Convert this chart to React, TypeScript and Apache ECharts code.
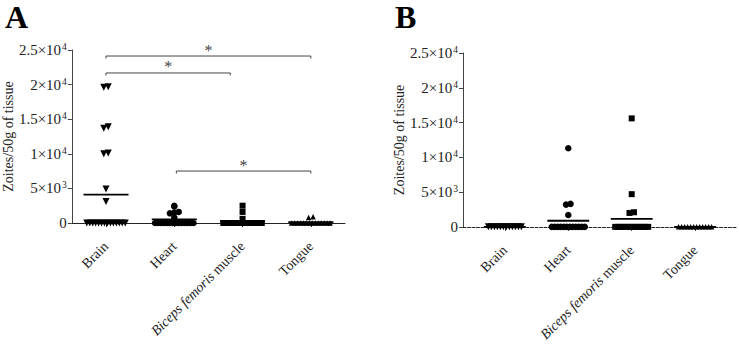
import React, { useEffect, useRef } from "react";
import * as echarts from "echarts";

// Tissue categories shared by both panels
const categories = ["Brain", "Heart", "Biceps femoris muscle", "Tongue"];

// Y-axis tick labels as [mantissa part, exponent] (0 … 2.5×10⁴ in steps of 5000)
const yTickBase = ["0", "5×10", "1×10", "1.5×10", "2×10", "2.5×10"];
const yTickExp = ["", "3", "4", "4", "4", "4"];

// Panel A – zoites per 50 g of tissue, one value per animal
const brainA = [0, 0, 0, 0, 0, 0, 0, 0, 0, 0, 0, 0, 0, 0, 3100, 4900, 10000, 10100, 13700, 13900, 19600, 19700];
const heartA = [0, 0, 0, 0, 0, 0, 0, 0, 0, 0, 0, 0, 0, 0, 800, 1400, 1500, 1600, 2400, 2500];
const bicepsA = [0, 0, 0, 0, 0, 0, 0, 0, 0, 0, 0, 0, 0, 0, 600, 1600, 2500];
const tongueA = [0, 0, 0, 0, 0, 0, 0, 0, 0, 0, 0, 0, 0, 0, 800, 900];
const meansA = [4100, 530, 250, 120];

// Panel B
const brainB = [0, 0, 0, 0, 0, 0, 0, 0, 0, 0, 0, 0];
const heartB = [0, 0, 0, 0, 0, 0, 0, 0, 0, 0, 0, 0, 1700, 3200, 3300, 11300];
const bicepsB = [0, 0, 0, 0, 0, 0, 0, 0, 0, 0, 0, 0, 2000, 2100, 4700, 15600];
const tongueB = [0, 0, 0, 0, 0, 0, 0, 0, 0, 0, 0, 0];
const meansB = [0, 880, 1150, 0];

// Significance brackets of panel A: [from category, to category, height]
const bracketFrom = [0, 0, 1.03];
const bracketTo = [3, 1.82, 3];
const bracketHeight = [24130, 21680, 7510];
const bracketText = ["*", "*", "*"];

const FONT = "'Liberation Serif', 'Times New Roman', serif";
const TEXT = "#222";

// Spread points sharing (nearly) the same value sideways around the category centre
function swarm(values: number[], cat: number, pxPerUnit: number): number[][] {
  const groups = new Map<string, number[]>();
  values.forEach((v) => {
    const key = v === 0 ? "z" : String(Math.round(v / 700));
    if (!groups.has(key)) groups.set(key, []);
    groups.get(key)!.push(v);
  });
  const out: number[][] = [];
  groups.forEach((vals, key) => {
    const step = (key === "z" ? 3 : 4.5) / pxPerUnit;
    const n = vals.length;
    vals.forEach((v, i) => out.push([cat + (i - (n - 1) / 2) * step, v]));
  });
  return out;
}

const symbols = [
  { symbol: "triangle", rotate: 180, size: 7 },
  { symbol: "circle", rotate: 0, size: 6.5 },
  { symbol: "rect", rotate: 0, size: 6 },
  { symbol: "triangle", rotate: 0, size: 5.5 },
];

function xAxisFor(gridIndex: number, min: number, max: number, dashed: boolean) {
  return {
    gridIndex,
    type: "value",
    min,
    max,
    splitLine: { show: false },
    axisLine: {
      onZero: false,
      lineStyle: { color: "#222", width: 1, type: dashed ? [3, 1.5] : "solid" },
    },
    axisTick: {
      show: true,
      customValues: [0, 1, 2, 3],
      length: 4,
      lineStyle: { color: "#222" },
    },
    axisLabel: {
      customValues: [0, 1, 2, 3],
      rotate: 45,
      margin: 21,
      fontSize: 14,
      fontFamily: FONT,
      color: TEXT,
      formatter: (v: number) => {
        const name = categories[Math.round(v)] ?? "";
        return name.startsWith("Biceps femoris") ? "{i|Biceps femoris}" + name.slice(14) : name;
      },
      rich: { i: { fontStyle: "italic", fontSize: 14, fontFamily: FONT, color: TEXT } },
    },
  };
}

function yAxisFor(gridIndex: number) {
  return {
    gridIndex,
    type: "value",
    min: 0,
    max: 25000,
    interval: 5000,
    name: "Zoites/50g of tissue",
    nameLocation: "middle",
    nameGap: 52,
    nameTextStyle: { fontSize: 14, fontFamily: FONT, color: TEXT },
    splitLine: { show: false },
    axisLine: { show: true, onZero: false, lineStyle: { color: "#444" } },
    axisTick: { show: true, length: 4, lineStyle: { color: "#444" } },
    axisLabel: {
      fontSize: 15,
      fontFamily: FONT,
      color: TEXT,
      margin: 5,
      formatter: (v: number) => {
        const k = Math.round(v / 5000);
        const e = yTickExp[k];
        return e ? `{b|${yTickBase[k]}}{s|${e}}` : `{b|${yTickBase[k]}}`;
      },
      rich: {
        b: { fontSize: 15, fontFamily: FONT, color: TEXT, lineHeight: 16 },
        s: { fontSize: 9.5, fontFamily: FONT, color: TEXT, verticalAlign: "top", lineHeight: 10, padding: [0, 0, 0, 1] },
      },
    },
  };
}

function scatterSeries(sets: number[][], axis: number, pxPerUnit: number) {
  return sets.map((vals, cat) => ({
    type: "scatter",
    xAxisIndex: axis,
    yAxisIndex: axis,
    silent: true,
    symbol: symbols[cat].symbol,
    symbolRotate: symbols[cat].rotate,
    symbolSize: symbols[cat].size,
    itemStyle: { color: "#000", opacity: 1 },
    data: swarm(vals, cat, pxPerUnit),
    z: 3,
  }));
}

function meanSeries(means: number[], axis: number) {
  return {
    type: "custom",
    xAxisIndex: axis,
    yAxisIndex: axis,
    silent: true,
    z: 4,
    itemStyle: { color: "#000" },
    data: means.map((m, i) => [i, m]),
    renderItem: (_p: any, api: any) => {
      const c = api.value(0);
      const m = api.value(1);
      const a = api.coord([c - 0.33, m]);
      const b = api.coord([c + 0.33, m]);
      return {
        type: "line",
        shape: { x1: a[0], y1: a[1], x2: b[0], y2: b[1] },
        style: { stroke: "#000", lineWidth: 1.8 },
      };
    },
  };
}

export default function App() {
  const ref = useRef<HTMLDivElement>(null);

  useEffect(() => {
    document.body.style.margin = "0";
    const chart = echarts.init(ref.current!, null, { renderer: "svg" });

    const pxA = (739 - 68 - 394) / 4;
    const pxB = (739 - 463 - 2) / 4.32;

    const option: any = {
      animation: false,
      grid: [
        { left: 68, right: 394, top: 50, bottom: 121 },
        { left: 463, right: 2, top: 53, bottom: 117 },
      ],
      xAxis: [xAxisFor(0, -0.5, 3.5, false), xAxisFor(1, -0.66, 3.66, true)],
      yAxis: [yAxisFor(0), yAxisFor(1)],
      graphic: [
        {
          type: "text",
          x: 5,
          y: 17,
          style: {
            text: "A",
            fontSize: 32,
            fontWeight: "bold",
            fontFamily: FONT,
            fill: "#000",
            verticalAlign: "middle",
          },
        },
        {
          type: "text",
          x: 395,
          y: 17,
          style: {
            text: "B",
            fontSize: 32,
            fontWeight: "bold",
            fontFamily: FONT,
            fill: "#000",
            verticalAlign: "middle",
          },
        },
      ],
      series: [
        ...scatterSeries([brainA, heartA, bicepsA, tongueA], 0, pxA),
        ...scatterSeries([brainB, heartB, bicepsB, tongueB], 1, pxB),
        meanSeries(meansA, 0),
        meanSeries(meansB, 1),
        {
          type: "custom",
          xAxisIndex: 0,
          yAxisIndex: 0,
          silent: true,
          clip: false,
          z: 5,
          itemStyle: { color: "#444" },
          data: bracketFrom.map((f, i) => [f, bracketTo[i], bracketHeight[i]]),
          renderItem: (params: any, api: any) => {
            const a = api.coord([api.value(0), api.value(2)]);
            const b = api.coord([api.value(1), api.value(2)]);
            return {
              type: "group",
              children: [
                {
                  type: "polyline",
                  shape: { points: [[a[0], a[1] + 2.5], [a[0], a[1]], [b[0], b[1]], [b[0], b[1] + 2.5]] },
                  style: { stroke: "#444", lineWidth: 1, fill: "none" },
                },
                {
                  type: "text",
                  x: (a[0] + b[0]) / 2,
                  y: a[1] - 6,
                  style: {
                    text: bracketText[params.dataIndex],
                    fontSize: 16,
                    fontFamily: FONT,
                    fill: "#444",
                    align: "center",
                    verticalAlign: "middle",
                  },
                },
              ],
            };
          },
        },
      ],
    };
    chart.setOption(option);
    return () => chart.dispose();
  }, []);

  return <div ref={ref} style={{ width: 739, height: 344 }} />;
}
